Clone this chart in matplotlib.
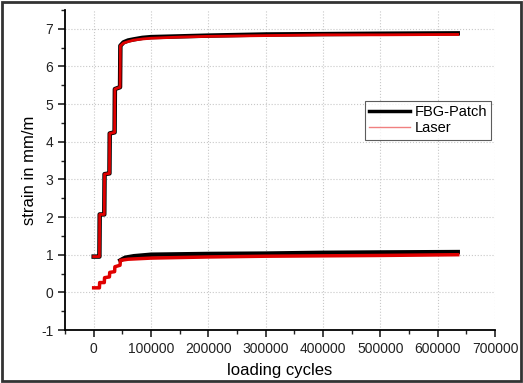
import matplotlib.pyplot as plt
from matplotlib.lines import Line2D
from matplotlib.patches import Rectangle
from matplotlib.ticker import MultipleLocator

plt.rcParams["font.family"] = ["Liberation Sans", "DejaVu Sans"]
plt.rcParams["axes.unicode_minus"] = False

# upper branch (max strain)
fbg_up_x = [0, 10000, 10500, 18500, 19000, 27500, 28000, 36500, 37000, 46000, 46600,
            52000, 60000, 70000, 85000, 100000, 150000, 200000, 300000, 400000, 500000, 635000]
fbg_up_y = [0.95, 0.95, 2.07, 2.07, 3.14, 3.16, 4.22, 4.25, 5.40, 5.45, 6.55,
            6.64, 6.69, 6.72, 6.76, 6.78, 6.80, 6.82, 6.85, 6.86, 6.87, 6.88]
laser_up_x = fbg_up_x
laser_up_y = [0.95, 0.95, 2.07, 2.07, 3.14, 3.16, 4.22, 4.25, 5.40, 5.45, 6.55,
              6.62, 6.66, 6.70, 6.73, 6.75, 6.78, 6.80, 6.82, 6.84, 6.84, 6.85]

# lower branch (min strain)
fbg_lo_x = [46600, 50000, 55000, 70000, 100000, 150000, 200000, 300000, 400000, 500000, 635000]
fbg_lo_y = [0.85, 0.88, 0.92, 0.96, 1.00, 1.01, 1.02, 1.03, 1.05, 1.06, 1.07]
laser_lo_x = [0, 10000, 10500, 18500, 19000, 27500, 28000, 36500, 37000, 46000, 46600,
              60000, 100000, 200000, 300000, 400000, 500000, 635000]
laser_lo_y = [0.12, 0.12, 0.26, 0.26, 0.39, 0.41, 0.53, 0.55, 0.68, 0.72, 0.85,
              0.88, 0.91, 0.94, 0.96, 0.97, 0.98, 1.00]

fig = plt.figure(figsize=(5.23, 3.83), dpi=100)
ax = fig.add_axes([65 / 523, 53 / 383, 430 / 523, 320 / 383])

ax.plot(fbg_up_x, fbg_up_y, color="black", lw=3.2)
ax.plot(fbg_lo_x, fbg_lo_y, color="black", lw=3.2)
ax.plot(laser_up_x, laser_up_y, color="#e00000", lw=2.0)
ax.plot(laser_lo_x, laser_lo_y, color="#e00000", lw=2.5)

ax.set_xlim(-50000, 700000)
ax.set_ylim(-1, 7.5)
ax.xaxis.set_major_locator(MultipleLocator(100000))
ax.xaxis.set_minor_locator(MultipleLocator(50000))
ax.yaxis.set_minor_locator(MultipleLocator(0.5))
ax.set_yticks(range(-1, 8))
ax.tick_params(which="major", direction="out", length=5, width=1.2, labelsize=10, colors="#222")
ax.tick_params(which="minor", direction="out", length=3, width=1.0, colors="#222")
ax.grid(True, which="major", linestyle=":", color="#c8c8c8", linewidth=0.8)
ax.spines["top"].set_visible(False)
ax.spines["right"].set_visible(False)
ax.spines["left"].set_linewidth(1.3)
ax.spines["bottom"].set_linewidth(1.3)
ax.set_xlabel("loading cycles", fontsize=12, labelpad=5)
ax.set_ylabel("strain in mm/m", fontsize=12, labelpad=3)

handles = [Line2D([], [], color="black", lw=2.5),
           Line2D([], [], color="#f08080", lw=1.0)]
leg = ax.legend(handles, ["FBG-Patch", "Laser"], loc="upper left",
                bbox_to_anchor=(0.697, 0.716), fontsize=10.5, frameon=True,
                fancybox=False, borderpad=0.3, labelspacing=0.15,
                handlelength=2.8, handletextpad=0.3, borderaxespad=0)
leg.get_frame().set_edgecolor("#333")
leg.get_frame().set_linewidth(0.8)

fig.patches.append(Rectangle((0.003, 0.004), 0.994, 0.992, transform=fig.transFigure,
                             fill=False, edgecolor="#333", linewidth=2))

fig.savefig("out.png", dpi=100)
